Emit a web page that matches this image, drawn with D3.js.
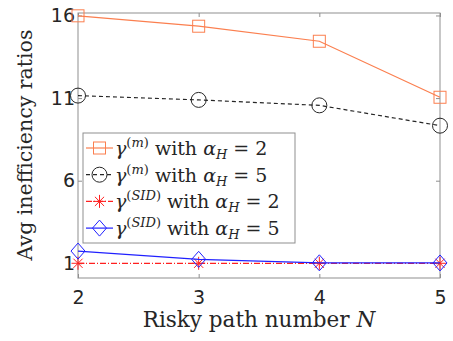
<!DOCTYPE html>
<style>
  body { margin: 0; background: #fff; }
  .tick text { font: 19px "DejaVu Sans", sans-serif; fill: #262626; }
  .lbl { font-family: "DejaVu Serif", serif; fill: #262626; }
</style>
<body>
  <div id="svg_frame"></div>
</body>
<script src="https://cdnjs.cloudflare.com/ajax/libs/d3/7.8.5/d3.js"></script>
<script>
  // risky path number N
  var pathNumbers = [2, 3, 4, 5];
  var yTicks = [1, 6, 11, 16];

  // avg inefficiency ratios
  var gammaM_a2 = [15.98, 15.35, 14.44, 11.05];
  var gammaM_a5 = [11.15, 10.89, 10.56, 9.33];
  var gammaSID_a2 = [1.0, 1.0, 1.0, 1.0];
  var gammaSID_a5 = [1.74, 1.24, 1.03, 1.02];

  var seriesNames = ["(m)", "(m)", "(SID)", "(SID)"];
  var seriesAlpha = [2, 5, 2, 5];

  var width = 453, height = 341;
  var plotL = 78, plotR = 440, plotT = 13, plotB = 278;

  var x = d3.scaleLinear().domain([2, 5]).range([plotL, plotR]);
  var y = d3.scaleLinear().domain([0.11, 16.15]).range([plotB, plotT]);

  var svg = d3.select("#svg_frame").append("svg")
    .attr("width", width)
    .attr("height", height);

  var axisColor = "#8f8f8f";

  // box + axes (ticks pointing in)
  svg.append("rect")
    .attr("x", plotL).attr("y", plotT)
    .attr("width", plotR - plotL).attr("height", plotB - plotT)
    .attr("fill", "none").attr("stroke", axisColor);

  svg.append("g")
    .attr("transform", "translate(0," + plotB + ")")
    .call(d3.axisBottom(x).tickValues(pathNumbers).tickSize(-4).tickPadding(13).tickFormat(d3.format("d")));
  svg.append("g")
    .attr("transform", "translate(" + plotL + ",0)")
    .call(d3.axisLeft(y).tickValues(yTicks).tickSize(-4).tickPadding(3).tickFormat(d3.format("d")));
  svg.append("g")
    .attr("transform", "translate(0," + plotT + ")")
    .call(d3.axisTop(x).tickValues(pathNumbers).tickSize(-4).tickFormat(""));
  svg.append("g")
    .attr("transform", "translate(" + plotR + ",0)")
    .call(d3.axisRight(y).tickValues(yTicks).tickSize(-4).tickFormat(""));
  svg.selectAll(".domain").remove();
  svg.selectAll(".tick line").attr("stroke", axisColor);

  // axis labels
  var xl = svg.append("text").attr("class", "lbl")
    .attr("x", 259).attr("y", 327)
    .attr("text-anchor", "middle")
    .style("font-size", "21.5px");
  xl.append("tspan").text("Risky path number ");
  xl.append("tspan").style("font-style", "italic").text("N");

  svg.append("text").attr("class", "lbl")
    .attr("transform", "translate(32,145) rotate(-90)")
    .attr("text-anchor", "middle")
    .style("font-size", "20.5px")
    .text("Avg inefficiency ratios");

  var line = d3.line()
    .x(function (d, i) { return x(pathNumbers[i]); })
    .y(function (d) { return y(d); });

  var series = [
    { values: gammaM_a2, color: "#fb7f4f", dash: null, marker: "square" },
    { values: gammaM_a5, color: "#262626", dash: "4,3", marker: "circle" },
    { values: gammaSID_a2, color: "#ff2020", dash: "6,2,1,2", marker: "star" },
    { values: gammaSID_a5, color: "#2020ff", dash: null, marker: "diamond" }
  ];

  function drawMarker(g, type, color, cx, cy) {
    if (type === "square") {
      g.append("rect").attr("x", cx - 6).attr("y", cy - 6).attr("width", 12).attr("height", 12)
        .attr("fill", "none").attr("stroke", color);
    } else if (type === "circle") {
      g.append("circle").attr("cx", cx).attr("cy", cy).attr("r", 7.5)
        .attr("fill", "none").attr("stroke", color);
    } else if (type === "diamond") {
      g.append("path")
        .attr("d", "M" + cx + "," + (cy - 8) + "L" + (cx + 7) + "," + cy + "L" + cx + "," + (cy + 8) + "L" + (cx - 7) + "," + cy + "Z")
        .attr("fill", "none").attr("stroke", color);
    } else {
      var r = 6.5;
      [0, 45, 90, 135].forEach(function (a) {
        var dx = r * Math.cos(a * Math.PI / 180), dy = r * Math.sin(a * Math.PI / 180);
        g.append("line").attr("x1", cx - dx).attr("y1", cy - dy).attr("x2", cx + dx).attr("y2", cy + dy)
          .attr("stroke", color);
      });
    }
  }

  series.forEach(function (s) {
    var g = svg.append("g");
    g.append("path")
      .datum(s.values)
      .attr("d", line)
      .attr("fill", "none")
      .attr("stroke", s.color)
      .attr("stroke-width", 1.2)
      .attr("stroke-dasharray", s.dash);
    s.values.forEach(function (v, i) {
      drawMarker(g, s.marker, s.color, x(pathNumbers[i]), y(v));
    });
  });

  // legend
  var lg = svg.append("g");
  lg.append("rect")
    .attr("x", 83).attr("y", 133).attr("width", 212).attr("height", 110)
    .attr("fill", "#fff").attr("stroke", axisColor);

  series.forEach(function (s, i) {
    var ly = 148 + i * 26.7;
    lg.append("line").attr("x1", 86).attr("x2", 113).attr("y1", ly).attr("y2", ly)
      .attr("stroke", s.color).attr("stroke-width", 1.2).attr("stroke-dasharray", s.dash);
    drawMarker(lg, s.marker, s.color, 99.5, ly);
    var t = lg.append("text").attr("class", "lbl")
      .attr("x", 115).attr("y", ly + 7)
      .style("font-size", "19px");
    t.append("tspan").style("font-style", "italic").text("\u03b3");
    t.append("tspan").attr("dy", -8).style("font-size", "13px")
      .html(seriesNames[i].replace(/([A-Za-z]+)/, "<tspan font-style='italic'>$1</tspan>"));
    t.append("tspan").attr("dy", 8).text(" with ");
    t.append("tspan").style("font-style", "italic").text("\u03b1");
    t.append("tspan").attr("dy", 4).style("font-size", "13px").style("font-style", "italic").text("H");
    t.append("tspan").attr("dy", -4).text(" = " + seriesAlpha[i]);
  });
</script>
